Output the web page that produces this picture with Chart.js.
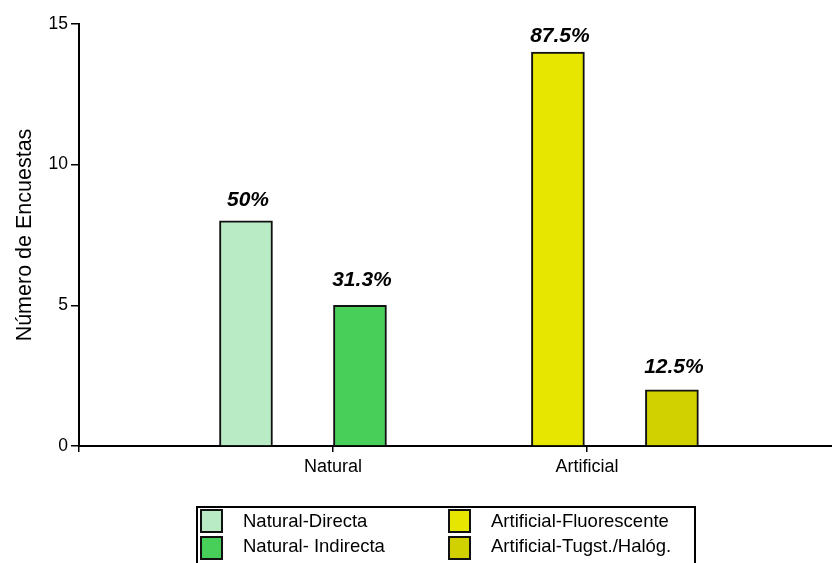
<!DOCTYPE html>
<html><head><meta charset="utf-8">
<script src="https://cdn.jsdelivr.net/npm/chart.js@4"></script>
<style>
html,body{margin:0;padding:0;background:#fff;overflow:hidden}
#wrap{position:relative;width:832px;height:563px;overflow:hidden}
canvas{position:absolute;left:0;top:0}
#legend{position:absolute;left:196px;top:506px;width:496px;height:80px;border:2px solid #000;font-family:"Liberation Sans",Arial,sans-serif;font-size:18.5px;line-height:23px;color:#000}
.sw{position:absolute;width:19px;height:20px;border:2px solid #111}
.tx{position:absolute;white-space:nowrap}
</style></head>
<body>
<div id="wrap">
<canvas id="c" width="832" height="563"></canvas>
<div id="legend"></div>
</div>
<script>
// ---- data ----
const categories = ['Natural', 'Artificial'];
const seriesNames = ['Natural-Directa', 'Natural- Indirecta', 'Artificial-Fluorescente', 'Artificial-Tugst./Halóg.'];
const seriesValues = [8, 5, 14, 2];
const seriesCategory = [0, 0, 1, 1];
const percentLabels = ['50%', '31.3%', '87.5%', '12.5%'];
const yTicks = [0, 5, 10, 15];
const yTitle = 'Número de Encuestas';

// ---- layout / style ----
const FONT = '"Liberation Sans", Arial, sans-serif';
const catPos = [1, 2];                               // axis units of category ticks
const barSlot = [-0.3425, 0.1063, -0.1142, 0.3346];  // bar offset from its category tick
const xMax = 2.965;
const colors = ['#b9ecc5', '#47cf5a', '#e6e600', '#d1d100'];
const labelGap = [15, 19, 10, 17];
const legendSlots = [
  {sx: 2, sy: 1, tx: 45, ty: 1},
  {sx: 2, sy: 28, tx: 45, ty: 26},
  {sx: 250, sy: 1, tx: 293, ty: 1},
  {sx: 250, sy: 28, tx: 293, ty: 26}
];

const datasets = seriesValues.map((v, i) => ({
  label: seriesNames[i],
  data: [{x: catPos[seriesCategory[i]] + barSlot[i], y: v}],
  backgroundColor: colors[i],
  borderColor: '#111',
  borderWidth: 2,
  barThickness: 53,
  grouped: false
}));

const pctPlugin = {
  id: 'pct',
  afterDatasetsDraw(chart) {
    const ctx = chart.ctx;
    ctx.save();
    ctx.font = 'italic bold 21px ' + FONT;
    ctx.fillStyle = '#000';
    ctx.textAlign = 'center';
    ctx.textBaseline = 'alphabetic';
    chart.data.datasets.forEach((ds, i) => {
      const el = chart.getDatasetMeta(i).data[0];
      ctx.fillText(percentLabels[i], el.x + 2, el.y - labelGap[i]);
    });
    ctx.restore();
  }
};

new Chart(document.getElementById('c'), {
  type: 'bar',
  data: {datasets},
  options: {
    responsive: false,
    animation: false,
    layout: {padding: {top: 24, right: 0, bottom: 0, left: 0}},
    plugins: {legend: {display: false}, tooltip: {enabled: false}},
    scales: {
      x: {
        type: 'linear', min: 0, max: xMax, offset: false,
        afterBuildTicks: s => { s.ticks = [0, ...catPos].map(v => ({value: v})); },
        afterFit: s => { s.height = 117; },
        grid: {offset: false, drawOnChartArea: false, drawTicks: true, tickLength: 6, color: '#000', lineWidth: 1.5},
        border: {display: true, color: '#000', width: 2},
        ticks: {
          color: '#000', font: {family: FONT, size: 18}, padding: 4,
          maxRotation: 0, autoSkip: false,
          callback: (v, i) => i === 0 ? '' : categories[i - 1]
        }
      },
      y: {
        min: 0, max: 15,
        afterBuildTicks: s => { s.ticks = yTicks.map(v => ({value: v})); },
        afterFit: s => { s.width = 79; },
        grid: {drawOnChartArea: false, drawTicks: true, tickLength: 8, color: '#000', lineWidth: 1.5},
        border: {display: true, color: '#000', width: 2},
        ticks: {color: '#000', font: {family: FONT, size: 17.5}, padding: 3},
        title: {display: true, text: yTitle, color: '#000', font: {family: FONT, size: 21.5}, padding: {top: 12, bottom: 0}}
      }
    }
  },
  plugins: [pctPlugin]
});

// HTML legend
const lg = document.getElementById('legend');
seriesNames.forEach((n, i) => {
  const s = legendSlots[i];
  const sw = document.createElement('div');
  sw.className = 'sw';
  sw.style.left = s.sx + 'px'; sw.style.top = s.sy + 'px';
  sw.style.background = colors[i];
  lg.appendChild(sw);
  const t = document.createElement('div');
  t.className = 'tx';
  t.style.left = s.tx + 'px'; t.style.top = s.ty + 'px';
  t.textContent = n;
  lg.appendChild(t);
});
</script>
</body></html>
